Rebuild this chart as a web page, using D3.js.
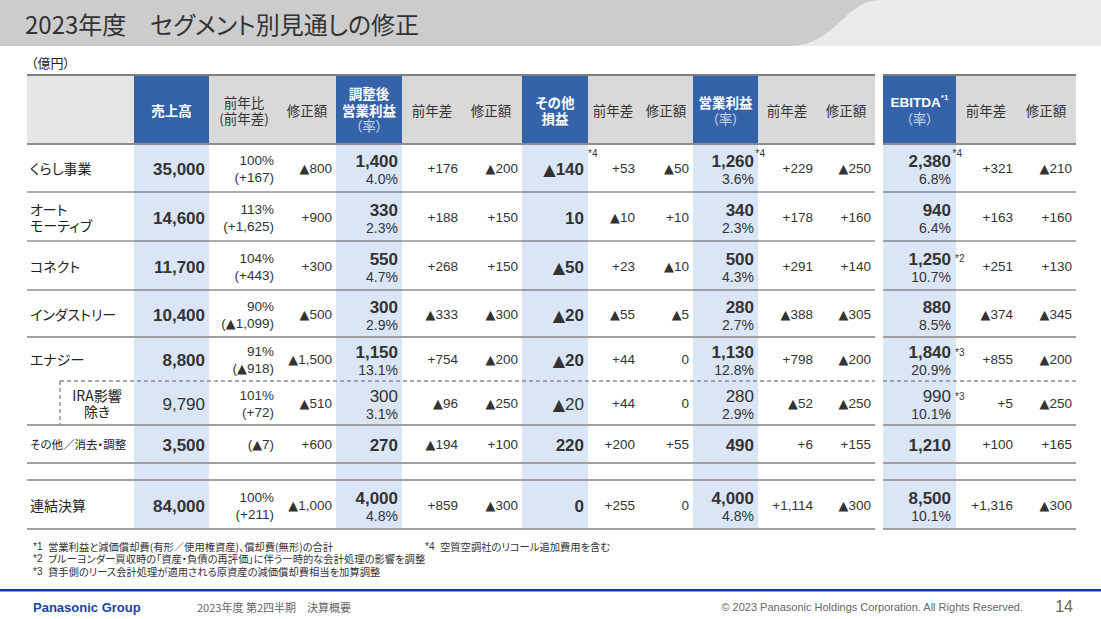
<!DOCTYPE html>
<html><head><meta charset="utf-8">
<script src="https://cdn.jsdelivr.net/npm/d3@7"></script>
<style>
body{margin:0;background:#fff;}
svg{display:block;}
.jp{font-feature-settings:"palt" 1;}
</style></head>
<body>
<script>
// ---------------- DATA ----------------
const segments = ["くらし事業","オート\nモーティブ","コネクト","インダストリー","エナジー","IRA影響\n除き","その他／消去・調整","連結決算"];
const sales        = [35000,14600,11700,10400,8800,9790,3500,84000];
const salesYoYPct  = [100,113,104,90,91,101,null,100];
const salesYoYDiff = [167,1625,443,-1099,-918,72,-7,211];
const salesRev     = [-800,900,300,-500,-1500,-510,600,-1000];
const adjOP        = [1400,330,550,300,1150,300,270,4000];
const adjOPRate    = [4.0,2.3,4.7,2.9,13.1,3.1,null,4.8];
const adjOPDiff    = [176,188,268,-333,754,-96,-194,859];
const adjOPRev     = [-200,150,150,-300,-200,-250,100,-300];
const otherPL      = [-140,10,-50,-20,-20,-20,220,0];
const otherDiff    = [53,-10,23,-55,44,44,200,255];
const otherRev     = [-50,10,-10,-5,0,0,55,0];
const opProfit     = [1260,340,500,280,1130,280,490,4000];
const opRate       = [3.6,2.3,4.3,2.7,12.8,2.9,null,4.8];
const opDiff       = [229,178,291,-388,798,-52,6,1114];
const opRev        = [-250,160,140,-305,-200,-250,155,-300];
const ebitda       = [2380,940,1250,880,1840,990,1210,8500];
const ebitdaRate   = [6.8,6.4,10.7,8.5,20.9,10.1,null,10.1];
const ebitdaDiff   = [321,163,251,-374,855,5,100,1316];
const ebitdaRev    = [-210,160,130,-345,-200,-250,165,-300];
const otherNotes   = ["*4",null,null,null,null,null,null,null];
const opNotes      = ["*4",null,null,null,null,null,null,null];
const ebitdaNotes  = ["*4",null,"*2",null,"*3","*3",null,null];
const colKeys = ["sales","yoy","salesRev","adjOP","adjOPDiff","adjOPRev","other","otherDiff","otherRev","op","opDiff","opRev","ebitda","ebitdaDiff","ebitdaRev"];
const headerLabels = [["売上高"],["前年比","(前年差)"],["修正額"],["調整後","営業利益","（率）"],["前年差"],["修正額"],["その他","損益"],["前年差"],["修正額"],["営業利益","（率）"],["前年差"],["修正額"],["EBITDA","（率）"],["前年差"],["修正額"]];
const footnotes = [["*1","営業利益と減価償却費(有形／使用権資産)、償却費(無形)の合計"],["*2","ブルーヨンダー買収時の「資産・負債の再評価」に伴う一時的な会計処理の影響を調整"],["*3","貸手側のリース会計処理が適用される原資産の減価償却費相当を加算調整"]];
const footnote4 = ["*4","空質空調社のリコール追加費用を含む"];
const title = "2023年度　セグメント別見通しの修正";
const unitLabel = "（億円）";

// ---------------- LAYOUT ----------------
const W = 1101, H = 619;
const FL = "'Liberation Sans', Arial, 'Noto Sans CJK JP', sans-serif";
const FJ = "'Noto Sans CJK JP', 'Liberation Sans', sans-serif";
const FT = "'DejaVu Sans', 'Noto Sans CJK JP', sans-serif";
const colRightX = d3.scaleOrdinal(colKeys, [205,274,332,398,458,518,584,635,689,754,813,871,951,1013,1072]);
const colCenterX = d3.scaleOrdinal(colKeys, [171.5,244,307,369,432,491,555,613,666,725.5,787,846,919.5,986,1046]);
const blueCols = [[134,209],[336,402],[522,588],[693,758],[883,956]];
const tables = [[27,875],[883,1076]];
const rowIdx = d3.range(segments.length);
const rowTop = d3.scaleOrdinal(rowIdx, [144,192,241,290,337,381,425,480]);
const rowBot = d3.scaleOrdinal(rowIdx, [192,241,290,337,381,425,463,529]);
const rowMid = i => (rowTop(i)+rowBot(i))/2;
const headTop = 75, headBot = 144, bodyBot = 529;

const fmt = d3.format(",");
const fAbs = v => v < 0 ? "▲" + fmt(-v) : fmt(v);
const fDiff = v => v < 0 ? "▲" + fmt(-v) : (v > 0 ? "+" + fmt(v) : "0");
const fRate = v => d3.format(".1f")(v) + "%";

const svg = d3.select("body").append("svg").attr("width", W).attr("height", H);

// title bar
svg.append("rect").attr("x",0).attr("y",0).attr("width",W).attr("height",46).attr("fill","#ebebeb");
svg.append("path").attr("d","M0,0H880C845,0 835,46 790,46H0Z").attr("fill","#cccccc");
svg.append("text").attr("class","jp").attr("x",25).attr("y",23).attr("dominant-baseline","central")
  .attr("font-family",FJ).attr("font-size",24).attr("fill","#333").text(title);
svg.append("text").attr("class","jp").attr("x",31).attr("y",62).attr("dominant-baseline","central")
  .attr("font-family",FJ).attr("font-size",13).attr("fill","#222").text(unitLabel);

// header backgrounds
svg.append("rect").attr("x",27).attr("y",headTop).attr("width",134-27).attr("height",headBot-headTop).attr("fill","#e6e6e6");
svg.append("rect").attr("x",134).attr("y",headTop).attr("width",875-134).attr("height",headBot-headTop).attr("fill","#d9d9d9");
svg.append("rect").attr("x",883).attr("y",headTop).attr("width",1076-883).attr("height",headBot-headTop).attr("fill","#d9d9d9");
blueCols.forEach(([a,b]) => {
  svg.append("rect").attr("x",a).attr("y",headTop).attr("width",b-a).attr("height",headBot-headTop).attr("fill","#3463a9");
  svg.append("rect").attr("x",a).attr("y",headBot).attr("width",b-a).attr("height",bodyBot-headBot).attr("fill","#dae6f6");
});

// horizontal lines
function hline(y, style, x0min){
  tables.forEach(([a,b],ti) => {
    const x0 = (ti===0 && x0min) ? x0min : a;
    const l = svg.append("line").attr("x1",x0).attr("x2",b).attr("y1",y).attr("y2",y);
    if (style==="top") l.attr("stroke","#7f7f7f").attr("stroke-width",2);
    if (style==="head") l.attr("stroke","#8c8c8c").attr("stroke-width",2);
    if (style==="thin") l.attr("stroke","#5a5a5a").attr("stroke-width",1.2);
    if (style==="thick") l.attr("stroke","#a0a0a0").attr("stroke-width",2.2);
    if (style==="dash") l.attr("stroke","#8c8c8c").attr("stroke-width",1.4).attr("stroke-dasharray","4,3");
  });
}
hline(headTop,"top"); hline(headBot,"head");
hline(192,"thin"); hline(241,"thin"); hline(290,"thin");
hline(337,"thick"); hline(381,"dash",60); hline(425,"thick");
hline(463,"thick"); hline(480,"thick"); hline(bodyBot,"thick");
svg.append("line").attr("x1",60).attr("x2",60).attr("y1",381).attr("y2",425)
  .attr("stroke","#8c8c8c").attr("stroke-width",1.4).attr("stroke-dasharray","4,3");

// header labels
const blueKeys = new Set(["sales","adjOP","other","op","ebitda"]);
colKeys.forEach((k,ci) => {
  const lines = headerLabels[ci];
  const n = lines.length;
  const ys = n===1 ? [110] : n===2 ? [102,118] : [93,109.5,125];
  const blue = blueKeys.has(k);
  lines.forEach((t,li) => {
    const isRate = t === "（率）";
    const tx = svg.append("text").attr("class","jp").attr("x",colCenterX(k)).attr("y",ys[li])
      .attr("text-anchor","middle").attr("dominant-baseline","central")
      .attr("font-family", t==="EBITDA" ? FL : FJ).attr("font-size",13.5)
      .attr("font-weight", blue && !isRate ? "bold" : "normal")
      .attr("fill", blue ? (isRate ? "#c8d6ec" : "#ffffff") : "#333");
    if (t === "EBITDA") {
      tx.append("tspan").text(t);
      tx.append("tspan").attr("font-size",8).attr("dy",-5).text("*1");
    } else tx.text(t);
  });
});

// row labels
segments.forEach((s,i) => {
  const lines = s.split("\n");
  const isSub = i === 5;
  const fs = i === 6 ? 11.5 : 14;
  lines.forEach((t,li) => {
    const y = rowMid(i) + (lines.length===1 ? 0 : (li===0 ? -8 : 8));
    svg.append("text").attr("class","jp").attr("x", isSub ? 97 : 30).attr("y", y)
      .attr("text-anchor", isSub ? "middle" : "start").attr("dominant-baseline","central")
      .attr("font-family",FJ).attr("font-size",fs).attr("fill","#222").text(t);
  });
});

// cells
function txt(x,y,t,size,bold){
  const el = svg.append("text").attr("x",x).attr("y",y).attr("text-anchor","end").attr("dominant-baseline","central")
    .attr("font-family",FL).attr("font-size",size).attr("font-weight",bold?"bold":"normal").attr("fill","#333");
  const parts = t.split(/(▲)/).filter(p => p.length);
  parts.forEach(p => {
    const sp = el.append("tspan").text(p);
    if (p === "▲") sp.attr("font-family",FT).attr("font-size",size*0.95);
  });
  return el;
}
function note(x,y,t){
  svg.append("text").attr("x",x).attr("y",y).attr("dominant-baseline","central")
    .attr("font-family",FL).attr("font-size",10).attr("fill","#333").text(t);
}
function mainCell(k,i,val,rate,nt){
  const bold = i !== 5;
  const m = rowMid(i);
  if (rate == null) {
    txt(colRightX(k), m+1, fAbs(val), 17, bold);
    if (nt) note(colRightX(k)+4, nt==="*4" ? m-15 : m+1, nt);
  } else {
    txt(colRightX(k), m-7, fAbs(val), 17, bold);
    txt(colRightX(k), m+11, fRate(rate), 14, false);
    if (nt) note(colRightX(k)+ (nt==="*4"?1.5:4), nt==="*4" ? m-15 : m-7, nt);
  }
}
function small(k,i,t){ txt(colRightX(k), rowMid(i), t, 13.5, false); }

rowIdx.forEach(i => {
  mainCell("sales", i, sales[i], null, null);
  if (salesYoYPct[i] == null) small("yoy", i, "(" + fDiff(salesYoYDiff[i]) + ")");
  else {
    txt(colRightX("yoy"), rowMid(i)-8, salesYoYPct[i] + "%", 13.5, false);
    txt(colRightX("yoy"), rowMid(i)+9, "(" + fDiff(salesYoYDiff[i]) + ")", 13.5, false);
  }
  small("salesRev", i, fDiff(salesRev[i]));
  mainCell("adjOP", i, adjOP[i], adjOPRate[i], null);
  small("adjOPDiff", i, fDiff(adjOPDiff[i]));
  small("adjOPRev", i, fDiff(adjOPRev[i]));
  mainCell("other", i, otherPL[i], null, otherNotes[i]);
  small("otherDiff", i, fDiff(otherDiff[i]));
  small("otherRev", i, fDiff(otherRev[i]));
  mainCell("op", i, opProfit[i], opRate[i], opNotes[i]);
  small("opDiff", i, fDiff(opDiff[i]));
  small("opRev", i, fDiff(opRev[i]));
  mainCell("ebitda", i, ebitda[i], ebitdaRate[i], ebitdaNotes[i]);
  small("ebitdaDiff", i, fDiff(ebitdaDiff[i]));
  small("ebitdaRev", i, fDiff(ebitdaRev[i]));
});

// footnotes
footnotes.forEach((f,j) => {
  const y = 546 + j*12.5;
  svg.append("text").attr("x",33).attr("y",y).attr("dominant-baseline","central").attr("font-family",FL).attr("font-size",10).attr("fill","#333").text(f[0]);
  svg.append("text").attr("class","jp").attr("x",48).attr("y",y).attr("dominant-baseline","central").attr("font-family",FJ).attr("font-size",10.3).attr("fill","#333").text(f[1]);
});
svg.append("text").attr("x",425).attr("y",546).attr("dominant-baseline","central").attr("font-family",FL).attr("font-size",10).attr("fill","#333").text(footnote4[0]);
svg.append("text").attr("class","jp").attr("x",440).attr("y",546).attr("dominant-baseline","central").attr("font-family",FJ).attr("font-size",10.3).attr("fill","#333").text(footnote4[1]);

// footer
svg.append("rect").attr("x",0).attr("y",589).attr("width",W).attr("height",2.5).attr("fill","#0b3bb0");
svg.append("text").attr("x",33).attr("y",607).attr("dominant-baseline","central").attr("font-family",FL)
  .attr("font-size",13).attr("font-weight","bold").attr("fill","#1445a8").text("Panasonic Group");
svg.append("text").attr("class","jp").attr("x",197).attr("y",607).attr("dominant-baseline","central").attr("font-family",FJ)
  .attr("font-size",11).attr("fill","#666").text("2023年度 第2四半期　決算概要");
svg.append("text").attr("x",1023).attr("y",607).attr("text-anchor","end").attr("dominant-baseline","central").attr("font-family",FL)
  .attr("font-size",11).attr("fill","#666").text("© 2023 Panasonic Holdings Corporation. All Rights Reserved.");
svg.append("text").attr("x",1073).attr("y",606).attr("text-anchor","end").attr("dominant-baseline","central").attr("font-family",FL)
  .attr("font-size",16).attr("fill","#666").text("14");
</script>
</body></html>
